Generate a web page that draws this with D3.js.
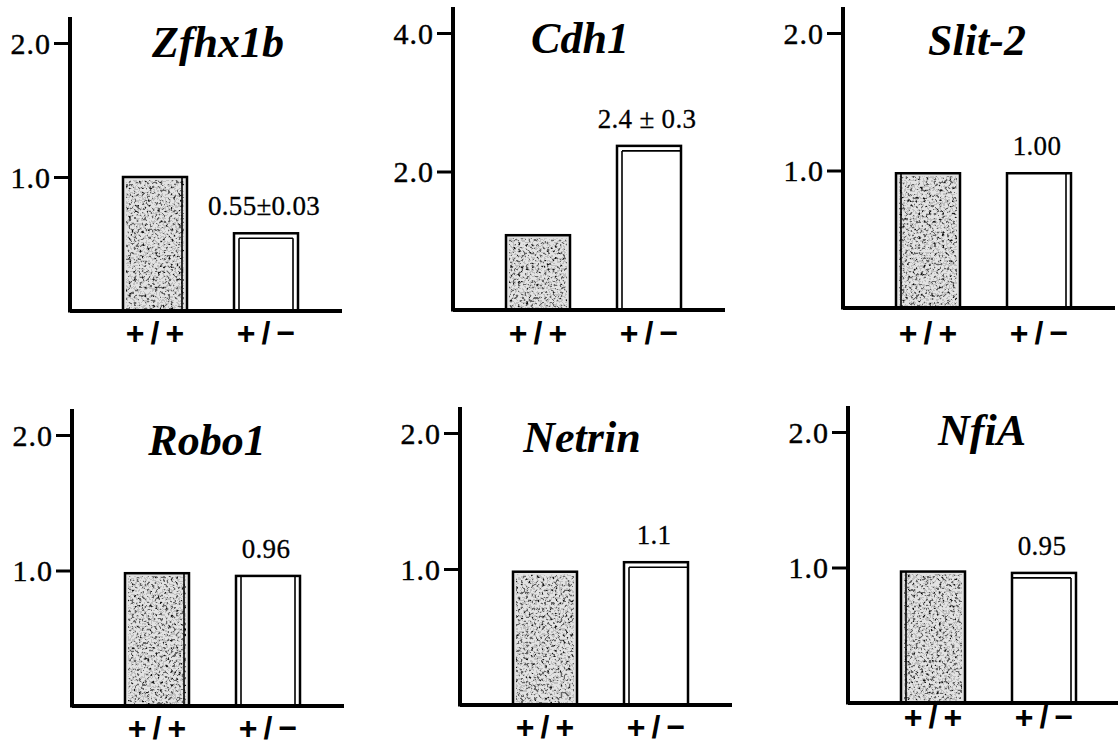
<!DOCTYPE html>
<html>
<head>
<meta charset="utf-8">
<script src="https://cdn.jsdelivr.net/npm/d3@7"></script>
<style>
  body { margin: 0; background: #fff; }
  svg { display: block; }
</style>
</head>
<body>
<div id="chart"></div>
<script>
// data
const genes = ["Zfhx1b", "Cdh1", "Slit-2", "Robo1", "Netrin", "NfiA"];
const genotypes = ["+/+", "+/−"];
const wildType = [1.0, 1.08, 0.98, 0.98, 0.98, 0.97];
const hetero = [0.58, 2.37, 0.98, 0.96, 1.05, 0.96];
const heteroLabels = ["0.55±0.03", "2.4 ± 0.3", "1.00", "0.96", "1.1", "0.95"];
const yMax = [2.0, 4.0, 2.0, 2.0, 2.0, 2.0];
const yTicks = [[1.0, 2.0], [2.0, 4.0], [1.0, 2.0], [1.0, 2.0], [1.0, 2.0], [1.0, 2.0]];

// layout of the six panels (pixels)
const axisX = [70, 453, 843, 72, 460, 848];
const baseY = [311, 310, 308, 706, 705, 703];
const topY = [43, 33, 33, 435, 433, 432];
const titleDx = [148, 127, 134, 135, 122, 134];
const titleY = [57, 53, 55, 455, 452, 445];
const labelY = [344, 344, 344, 739, 738, 728];
// which sides of each bar carry the thin inner line
const innerWT = [["right"], [], ["left"], ["right"], [], ["left"]];
const innerHet = [["left", "top", "right"], ["left", "top"], ["right"], ["left", "right"], ["left", "top"], ["top", "right"]];

const width = 1118, height = 748;
const barW = 64, inset = 5;
const serif = "'Liberation Serif', 'Times New Roman', serif";

const svg = d3.select("#chart").append("svg")
  .attr("width", width)
  .attr("height", height);

// speckled fill for the +/+ bars
const defs = svg.append("defs");
const filt = defs.append("filter")
  .attr("id", "stipple")
  .attr("x", 0).attr("y", 0).attr("width", 1).attr("height", 1);
filt.append("feTurbulence")
  .attr("type", "fractalNoise")
  .attr("baseFrequency", 0.38)
  .attr("numOctaves", 3)
  .attr("seed", 7)
  .attr("result", "noise");
filt.append("feColorMatrix")
  .attr("in", "noise")
  .attr("type", "matrix")
  .attr("values", "0 0 0 0 0  0 0 0 0 0  0 0 0 0 0  1 0 0 0 0")
  .attr("result", "a");
const ct = filt.append("feComponentTransfer").attr("in", "a").attr("result", "dots");
ct.append("feFuncA").attr("type", "discrete").attr("tableValues", "0 0 0 0 0.15 0.55 0.9 1");
filt.append("feComposite").attr("in", "dots").attr("in2", "SourceGraphic").attr("operator", "in");

genes.forEach((gene, i) => {
  const ax = axisX[i];
  const g = svg.append("g");

  const y = d3.scaleLinear()
    .domain([0, yMax[i]])
    .range([baseY[i], topY[i]]);

  const x = d3.scalePoint()
    .domain(genotypes)
    .range([ax + 85, ax + 196]);

  // y axis ticks + labels
  const yAxis = d3.axisLeft(y)
    .tickValues(yTicks[i])
    .tickFormat(d3.format(".1f"))
    .tickSize(16)
    .tickPadding(3);
  const yg = g.append("g")
    .attr("transform", `translate(${ax},0)`)
    .call(yAxis);
  yg.select(".domain").remove();
  yg.selectAll(".tick line").attr("stroke", "#000").attr("stroke-width", 3);
  yg.selectAll(".tick text")
    .attr("fill", "#000")
    .attr("stroke", "#000")
    .attr("stroke-width", 0.4)
    .attr("dy", "0.34em")
    .style("font-family", serif)
    .style("font-size", "30px")
    .style("letter-spacing", "1px");

  // axis lines
  g.append("line")
    .attr("x1", ax).attr("x2", ax)
    .attr("y1", topY[i] - 26).attr("y2", baseY[i] + 1.5)
    .attr("stroke", "#000").attr("stroke-width", 4);

  const vals = [wildType[i], hetero[i]];
  const inner = [innerWT[i], innerHet[i]];

  genotypes.forEach((gt, j) => {
    const x0 = x(gt) - barW / 2;
    const yt = y(vals[j]);
    const h = baseY[i] - yt;
    if (j === 0) {
      g.append("rect")
        .attr("x", x0).attr("y", yt).attr("width", barW).attr("height", h)
        .attr("fill", "#e2e2e2");
      g.append("rect")
        .attr("x", x0 + 3).attr("y", yt + 3).attr("width", barW - 6).attr("height", h - 5)
        .attr("fill", "#000")
        .attr("filter", "url(#stipple)");
    }
    g.append("rect")
      .attr("x", x0).attr("y", yt).attr("width", barW).attr("height", h)
      .attr("fill", "none")
      .attr("stroke", "#000").attr("stroke-width", 2.5);

    // double line on some sides
    const sides = inner[j];
    const l = sides.includes("left") ? x0 + inset : x0;
    const r = sides.includes("right") ? x0 + barW - inset : x0 + barW;
    const t = sides.includes("top") ? yt + inset : yt;
    sides.forEach(s => {
      let c;
      if (s === "left") c = [l, t, l, baseY[i]];
      if (s === "right") c = [r, t, r, baseY[i]];
      if (s === "top") c = [l, t, r, t];
      g.append("line")
        .attr("x1", c[0]).attr("y1", c[1]).attr("x2", c[2]).attr("y2", c[3])
        .attr("stroke", "#000").attr("stroke-width", 1.6);
    });
  });

  g.append("line")
    .attr("x1", ax).attr("x2", ax + 272)
    .attr("y1", baseY[i]).attr("y2", baseY[i])
    .attr("stroke", "#000").attr("stroke-width", 4);

  // value label over the +/- bar
  g.append("text")
    .attr("x", x(genotypes[1]) - 2)
    .attr("y", y(hetero[i]) - 18)
    .attr("text-anchor", "middle")
    .attr("stroke", "#000")
    .attr("stroke-width", 0.3)
    .style("font-family", serif)
    .style("font-size", "27px")
    .style("letter-spacing", "0.3px")
    .text(heteroLabels[i]);

  // genotype labels
  g.selectAll(".gt")
    .data(genotypes)
    .join("text")
    .attr("class", "gt")
    .attr("x", d => x(d) + 3)
    .attr("y", labelY[i])
    .attr("text-anchor", "middle")
    .style("font-family", "'Liberation Sans', Arial, sans-serif")
    .style("font-weight", "bold")
    .style("font-size", "32px")
    .style("letter-spacing", "6px")
    .text(d => d);

  // gene title
  g.append("text")
    .attr("x", ax + titleDx[i])
    .attr("y", titleY[i])
    .attr("text-anchor", "middle")
    .style("font-family", serif)
    .style("font-weight", "bold")
    .style("font-style", "italic")
    .style("font-size", "44px")
    .text(gene);
});
</script>
</body>
</html>
